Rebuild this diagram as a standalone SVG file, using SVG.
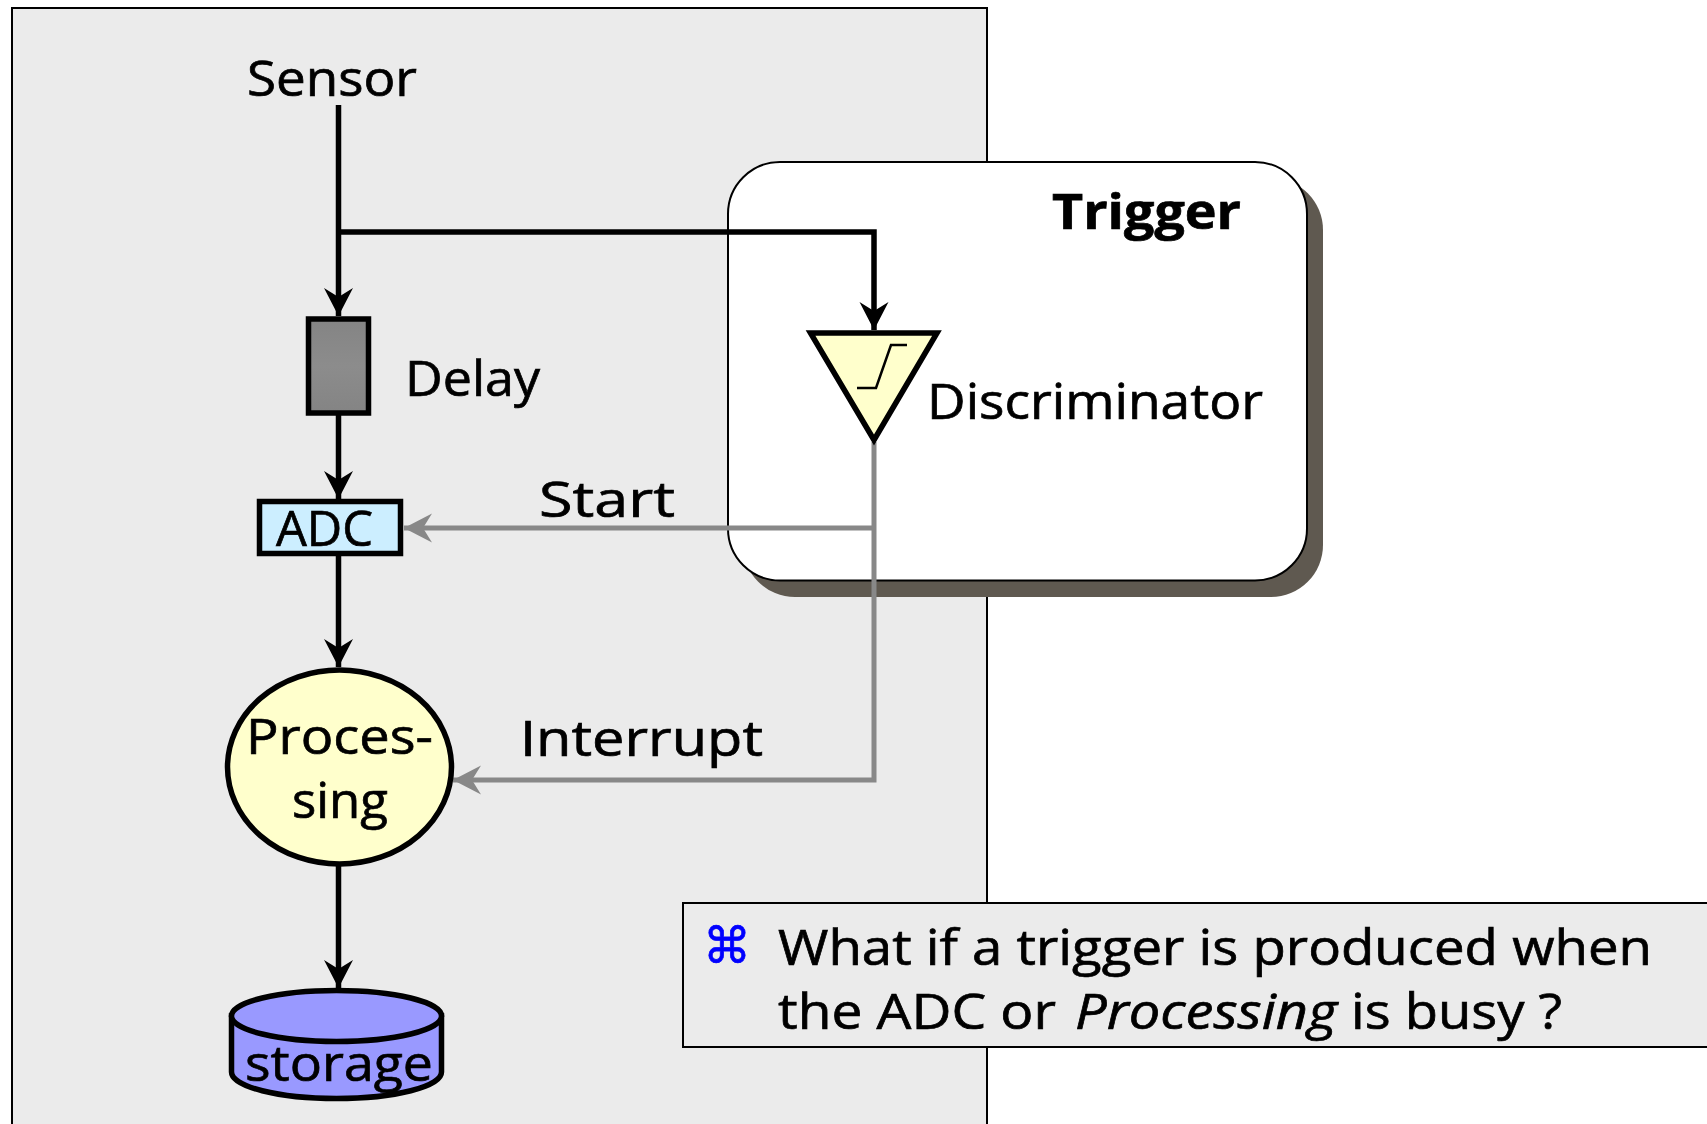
<svg xmlns="http://www.w3.org/2000/svg" width="1707" height="1124" viewBox="0 0 1707 1124">
<style>
text{font-family:"Open Sans","Noto Sans","Liberation Sans",sans-serif;font-size:49px;fill:#000;stroke:#000;stroke-width:0.7}
.b{fill:none;stroke:#000;stroke-width:5.500}
.g{fill:none;stroke:#888;stroke-width:5}
.n{stroke:#000;stroke-width:5.500}
</style>
<defs>
<marker id="ab" markerUnits="userSpaceOnUse" markerWidth="32" markerHeight="32" refX="28" refY="15" orient="auto"><path d="M0 0.500L28 15L0 29.500L9 15Z" fill="#000"/></marker>
<marker id="ag" markerUnits="userSpaceOnUse" markerWidth="32" markerHeight="32" refX="28" refY="15" orient="auto"><path d="M0 0.500L28 15L0 29.500L9 15Z" fill="#888"/></marker>
<linearGradient id="dg" x1="0" y1="0" x2="0" y2="1"><stop offset="0" stop-color="#848484"/><stop offset="0.5" stop-color="#8c8c8c"/><stop offset="1" stop-color="#848484"/></linearGradient>
</defs>
<rect id="panel" x="12" y="8" width="975" height="1130" fill="#ebebeb" stroke="#000" stroke-width="2"/>
<g id="trigger">
<rect x="743" y="178" width="580" height="419" rx="52" fill="#5f5950"/>
<rect x="728" y="162" width="579" height="418.500" rx="52" fill="#fff" stroke="#000" stroke-width="2"/>
<text x="1052" y="229" textLength="189" lengthAdjust="spacingAndGlyphs" style="font-weight:700">Trigger</text>
</g>
<g id="connectors">
<path class="b" d="M338.500 105V316" marker-end="url(#ab)"/>
<path class="b" d="M338.500 232H874V330" marker-end="url(#ab)"/>
<path class="b" d="M338.500 415V499" marker-end="url(#ab)"/>
<path class="b" d="M338.500 556V667" marker-end="url(#ab)"/>
<path class="b" d="M338.500 865V988" marker-end="url(#ab)"/>
<path class="g" d="M874 442V780H453" marker-end="url(#ag)"/>
<path class="g" d="M874 528H404" marker-end="url(#ag)"/>
</g>
<g id="sensor"><text x="247" y="96" textLength="170" lengthAdjust="spacingAndGlyphs">Sensor</text></g>
<g id="delay">
<rect class="n" x="308.500" y="319" width="60" height="94" fill="url(#dg)"/>
<text x="405" y="396" textLength="135" lengthAdjust="spacingAndGlyphs">Delay</text>
</g>
<g id="adc">
<rect class="n" x="259.500" y="501.500" width="141" height="52" fill="#cceeff"/>
<text x="276" y="546" textLength="97" lengthAdjust="spacingAndGlyphs">ADC</text>
</g>
<g id="discriminator">
<path class="n" d="M810.500 333H937L874 440Z" fill="#ffffcc"/>
<path d="M857 388H876L891 345H907" fill="none" stroke="#000" stroke-width="2.500"/>
<text x="927" y="419" textLength="336" lengthAdjust="spacingAndGlyphs">Discriminator</text>
</g>
<g id="processing">
<ellipse class="n" cx="339.500" cy="767" rx="112" ry="97" fill="#ffffcc"/>
<text x="246" y="754" textLength="187" lengthAdjust="spacingAndGlyphs">Proces-</text>
<text x="292" y="818" textLength="96" lengthAdjust="spacingAndGlyphs">sing</text>
</g>
<g id="start-label"><text x="539" y="517" textLength="136" lengthAdjust="spacingAndGlyphs">Start</text></g>
<g id="interrupt-label"><text x="520" y="756" textLength="243" lengthAdjust="spacingAndGlyphs">Interrupt</text></g>
<g id="storage">
<path class="n" d="M231.500 1016V1072A105 26.500 0 0 0 441.500 1072V1016Z" fill="#9999ff"/>
<ellipse class="n" cx="336.500" cy="1016" rx="105" ry="25.500" fill="#9999ff"/>
<text x="245" y="1081" textLength="188" lengthAdjust="spacingAndGlyphs">storage</text>
</g>
<g id="note">
<rect x="683" y="903" width="1040" height="144" fill="#ebebeb" stroke="#000" stroke-width="2"/>
<text x="703" y="963" textLength="48" lengthAdjust="spacingAndGlyphs" style="font-family:'DejaVu Sans',sans-serif;fill:#0000ff;stroke:#0000ff;stroke-width:0.7;font-size:50px">⌘</text>
<text x="778" y="965" textLength="874" lengthAdjust="spacingAndGlyphs">What if a trigger is produced when</text>
<text x="778" y="1029" textLength="278" lengthAdjust="spacingAndGlyphs">the ADC or</text>
<text x="1075" y="1029" textLength="262" lengthAdjust="spacingAndGlyphs" font-style="italic">Processing</text>
<text x="1351" y="1029" textLength="211" lengthAdjust="spacingAndGlyphs">is busy ?</text>
</g>
</svg>
